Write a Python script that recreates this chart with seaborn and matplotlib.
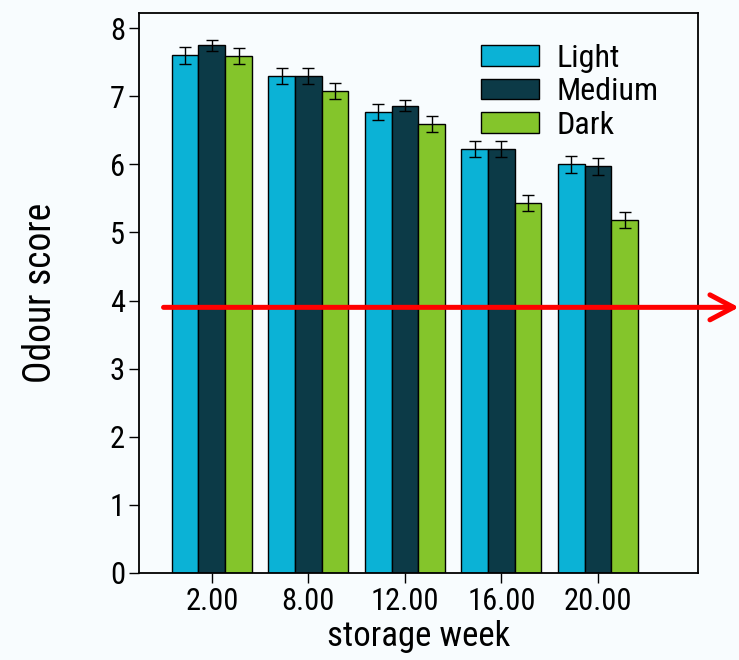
import matplotlib
matplotlib.use("Agg")
import matplotlib.pyplot as plt
from matplotlib import font_manager
from matplotlib.patches import ArrowStyle
import seaborn as sns
import pandas as pd
import numpy as np

weeks = ["2.00", "8.00", "12.00", "16.00", "20.00"]
roasts = ["Light", "Medium", "Dark"]
light = [7.60, 7.30, 6.77, 6.23, 6.00]
medium = [7.75, 7.30, 6.86, 6.23, 5.97]
dark = [7.59, 7.08, 6.59, 5.43, 5.18]
light_err = [0.12, 0.12, 0.12, 0.12, 0.12]
medium_err = [0.08, 0.12, 0.08, 0.12, 0.12]
dark_err = [0.12, 0.12, 0.12, 0.12, 0.12]
colors = ["#0BB2D6", "#0C3A47", "#84C52B"]
threshold = 3.9
yticks = [0, 1, 2, 3, 4, 5, 6, 7, 8]

sns.set_style("ticks")
names = {f.name for f in font_manager.fontManager.ttflist}
cands = ["Liberation Sans Narrow", "Arial Narrow", "Roboto Condensed",
         "Open Sans Condensed", "Noto Sans Condensed", "DejaVu Sans Condensed"]
narrow = [f for f in cands if f in names]
fam = narrow + [f for f in ["Liberation Sans", "DejaVu Sans"] if f in names]
plt.rcParams["font.family"] = fam
plt.rcParams["font.stretch"] = "condensed"
plt.rcParams["text.color"] = "black"
plt.rcParams["axes.labelcolor"] = "black"

bg = "#F8FCFE"
fig = plt.figure(figsize=(7.39, 6.60), dpi=100, facecolor=bg)
ax = fig.add_axes([0.188, 0.132, 0.757, 0.848])
ax.set_facecolor(bg)

df = pd.DataFrame({
    "week": weeks * 3,
    "roast": sum([[r] * len(weeks) for r in roasts], []),
    "score": light + medium + dark,
})
errs = {"Light": light_err, "Medium": medium_err, "Dark": dark_err}

sns.barplot(data=df, x="week", y="score", hue="roast", order=weeks,
            hue_order=roasts, palette=colors, errorbar=None, width=0.83,
            edgecolor="black", linewidth=1.0, saturation=1, ax=ax)

for cont, r in zip(ax.containers, roasts):
    xs = [b.get_x() + b.get_width() / 2 for b in cont]
    hs = [b.get_height() for b in cont]
    ax.errorbar(xs, hs, yerr=errs[r], fmt="none", ecolor="black",
                elinewidth=1.0, capsize=4.5, capthick=1.0, zorder=5)

ax.set_ylim(0, 8.22)
ax.set_xlim(-0.755, 5.04)
ax.set_yticks(yticks)
ax.set_yticklabels([str(t) for t in yticks])
big = 22 if narrow else 20
ax.tick_params(axis="both", direction="out", length=7, width=1, labelsize=big,
               pad=3, colors="black")
ax.tick_params(axis="x", pad=3)
for s in ax.spines.values():
    s.set_visible(True)
    s.set_linewidth(1.3)
    s.set_color("black")
ax.set_xlabel("storage week", fontsize=big + 3, labelpad=3, color="black")
ax.set_ylabel("Odour score", fontsize=big + 5, labelpad=37 if narrow else 32,
              color="black")

lfs = big + 1
leg = ax.legend(loc="upper left", bbox_to_anchor=(0.588, 0.968), frameon=False,
                fontsize=lfs, handlelength=41.8 / lfs, handleheight=0.6,
                handletextpad=0.55, labelspacing=0.14, borderaxespad=0)
for t in leg.get_texts():
    t.set_color("black")

ax.annotate("", xy=(5.46, threshold), xytext=(-0.50, threshold),
            xycoords="data", textcoords="data", annotation_clip=False,
            arrowprops=dict(arrowstyle=ArrowStyle("->", head_length=17, head_width=9),
                            mutation_scale=1, color="red", lw=3.6,
                            shrinkA=0, shrinkB=0), zorder=10)

fig.savefig("out.png", dpi=100, facecolor=bg)
